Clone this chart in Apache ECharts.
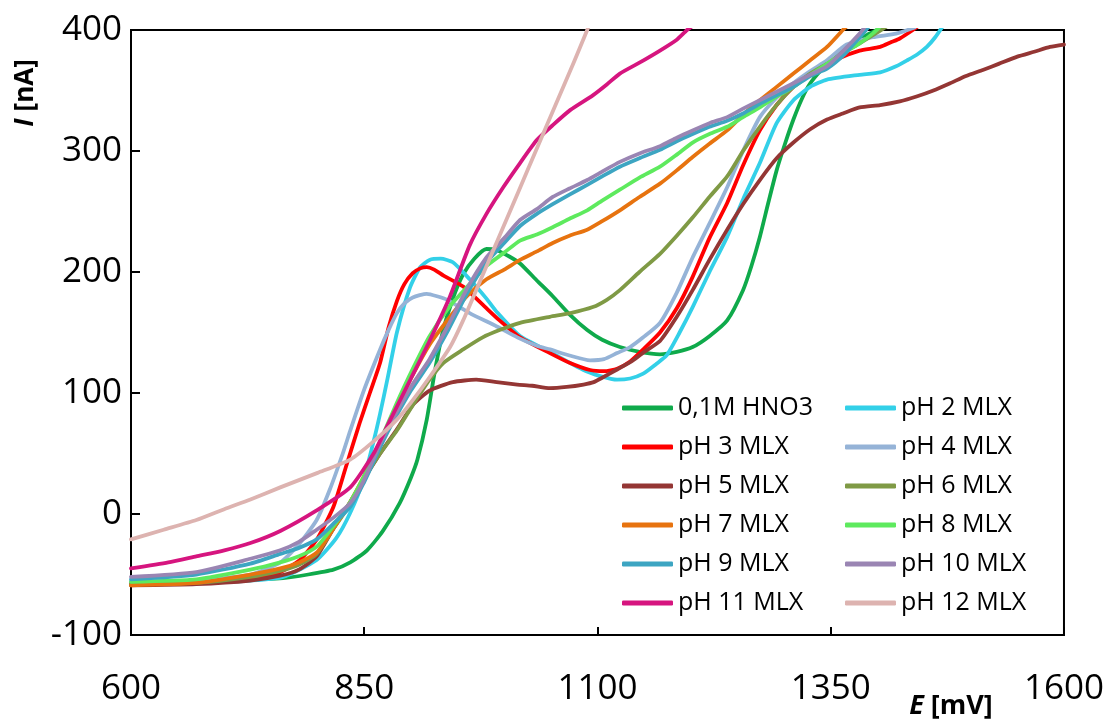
<!DOCTYPE html>
<html>
<head>
<meta charset="utf-8">
<script src="https://cdn.jsdelivr.net/npm/echarts@6/dist/echarts.min.js"></script>
<style>
html,body{margin:0;padding:0;background:#fff;}
#chart{width:1107px;height:725px;}
</style>
</head>
<body>
<div id="chart"></div>
<script>
// ---- Data: [E (mV), I (nA)] ----
const seriesNames = ['0,1M HNO3','pH 2 MLX','pH 3 MLX','pH 4 MLX','pH 5 MLX','pH 6 MLX','pH 7 MLX','pH 8 MLX','pH 9 MLX','pH 10 MLX','pH 11 MLX','pH 12 MLX'];
const seriesColors = ['#0FAA4B','#33D0E8','#FF0000','#95B3D7','#943634','#7F9A45','#E7730F','#5EEA5E','#3DA5C2','#9A85B3','#D6157F','#DDB3B0'];
const xTicks = [600, 850, 1100, 1350, 1600];
const yTicks = [-100, 0, 100, 200, 300, 400];

const hno3 = [[600,-57],[650,-56],[700,-55],[763,-53],[790,-50],[817,-46],[835,-40],[853,-30],[870,-14],[888,9],[900,30],[907,45],[917,78],[925,115],[934,150],[945,178],[956,198],[968,211],[981,219],[992,218],[1005,213],[1017,207],[1035,193],[1052,180],[1070,165],[1089,152],[1105,144],[1124,138],[1145,134],[1167,132],[1185,134],[1202,138],[1220,147],[1239,160],[1256,185],[1265,205],[1274,229],[1283,257],[1292,284],[1301,306],[1310,326],[1319,343],[1328,356],[1346,372],[1367,386],[1389,396],[1405,402]];
const ph2 = [[600,-58],[670,-57],[728,-55],[763,-52],[799,-38],[820,-20],[835,1],[849,28],[860,60],[867,83],[875,112],[885,150],[899,187],[910,204],[920,210],[932,211],[945,208],[963,194],[981,178],[992,167],[1017,147],[1049,134],[1085,119],[1103,114],[1121,111],[1135,112],[1149,116],[1163,124],[1174,131],[1188,150],[1202,171],[1220,200],[1239,229],[1256,260],[1274,290],[1292,323],[1310,342],[1328,353],[1346,359],[1381,363],[1403,365],[1420,370],[1432,375],[1443,380],[1453,386],[1462,394],[1470,403]];
const ph3 = [[600,-58],[670,-57],[728,-54],[755,-50],[781,-38],[800,-20],[817,6],[830,38],[845,75],[856,100],[867,125],[876,154],[885,176],[893,190],[902,199],[910,203],[917,204],[925,202],[935,197],[956,188],[977,173],[995,160],[1017,146],[1049,133],[1070,125],[1092,119],[1107,118],[1121,120],[1135,126],[1149,136],[1167,150],[1185,170],[1202,196],[1220,228],[1239,257],[1256,288],[1274,317],[1292,338],[1310,353],[1328,364],[1346,372],[1363,378],[1381,383],[1403,386],[1415,390],[1424,393],[1438,400],[1445,404]];
const ph4 = [[600,-56],[670,-55],[728,-50],[760,-40],[780,-25],[799,-5],[813,20],[827,50],[835,69],[850,103],[867,136],[876,152],[885,166],[893,174],[902,179],[917,182],[928,180],[939,177],[963,166],[992,155],[1014,146],[1035,139],[1049,136],[1070,131],[1092,127],[1107,128],[1121,133],[1135,138],[1149,146],[1167,158],[1185,183],[1202,212],[1220,240],[1239,270],[1256,300],[1274,328],[1292,344],[1310,356],[1328,366],[1346,375],[1367,388],[1395,394],[1420,397],[1440,402]];
const ph5 = [[600,-59],[670,-58],[728,-55],[760,-51],[780,-46],[799,-35],[817,-12],[835,10],[849,28],[867,50],[885,70],[902,90],[920,102],[945,109],[970,111],[992,109],[1014,107],[1030,106],[1049,104],[1067,105],[1085,107],[1096,109],[1106,113],[1120,119],[1138,127],[1150,134],[1167,143],[1185,163],[1202,185],[1220,210],[1239,235],[1256,256],[1274,276],[1292,294],[1310,307],[1328,318],[1346,326],[1363,331],[1381,336],[1403,338],[1424,341],[1442,345],[1460,350],[1478,356],[1495,362],[1513,367],[1530,372],[1550,378],[1568,382],[1585,386],[1600,388]];
const ph6 = [[600,-58],[670,-57],[728,-52],[760,-47],[780,-42],[799,-33],[817,-12],[835,8],[849,28],[867,50],[885,69],[902,90],[920,111],[935,125],[956,136],[977,146],[995,152],[1017,158],[1049,163],[1071,166],[1095,171],[1110,177],[1124,185],[1145,200],[1167,215],[1185,230],[1202,245],[1220,262],[1239,279],[1256,300],[1274,320],[1292,338],[1310,353],[1328,364],[1346,372],[1363,381],[1381,389],[1400,398],[1410,403]];
const ph7 = [[600,-59],[670,-57],[728,-50],[760,-45],[780,-40],[799,-32],[817,-12],[835,10],[849,30],[867,58],[885,88],[902,115],[920,140],[942,163],[960,180],[981,194],[1000,202],[1017,210],[1035,217],[1052,224],[1070,230],[1089,235],[1105,242],[1124,251],[1145,262],[1167,273],[1185,284],[1202,295],[1220,306],[1239,317],[1256,330],[1274,342],[1292,353],[1310,364],[1328,375],[1346,386],[1363,400],[1370,405]];
const ph8 = [[600,-56],[670,-54],[728,-46],[760,-40],[780,-35],[799,-27],[817,-10],[835,10],[849,30],[867,60],[885,92],[902,120],[920,147],[942,172],[963,190],[981,205],[1000,216],[1017,226],[1035,231],[1052,237],[1070,244],[1089,251],[1105,259],[1124,268],[1145,278],[1167,287],[1185,297],[1202,307],[1220,314],[1239,320],[1256,328],[1274,336],[1292,345],[1310,353],[1328,363],[1346,372],[1363,381],[1381,389],[1395,397],[1402,402]];
const ph9 = [[600,-54],[670,-50],[728,-41],[760,-33],[780,-28],[799,-21],[817,-8],[835,6],[849,25],[867,55],[878,72],[900,102],[920,125],[940,152],[960,182],[981,208],[1000,224],[1017,238],[1035,248],[1052,256],[1070,264],[1089,272],[1105,279],[1124,287],[1145,294],[1167,301],[1185,308],[1202,314],[1220,320],[1239,325],[1256,331],[1274,339],[1292,346],[1310,353],[1328,362],[1346,368],[1365,380],[1381,394],[1390,402]];
const ph10 = [[600,-52],[670,-48],[728,-37],[760,-30],[780,-23],[799,-13],[817,-3],[835,9],[849,27],[867,58],[878,75],[900,105],[920,128],[940,156],[960,186],[981,212],[1000,228],[1017,243],[1035,252],[1052,262],[1070,269],[1089,276],[1105,283],[1124,291],[1145,298],[1167,304],[1185,311],[1202,317],[1220,323],[1239,328],[1256,335],[1274,342],[1292,349],[1310,356],[1328,363],[1346,370],[1365,384],[1381,397],[1386,402]];
const ph11 = [[600,-45],[640,-40],[670,-35],[700,-30],[728,-24],[760,-14],[799,3],[835,22],[860,50],[878,78],[900,112],[920,143],[942,180],[963,222],[981,248],[999,270],[1017,290],[1035,309],[1053,322],[1071,334],[1095,346],[1110,355],[1124,364],[1145,373],[1167,383],[1185,392],[1196,400],[1205,405]];
const ph12 = [[600,-21],[635,-13],[670,-5],[700,4],[728,12],[760,22],[800,34],[835,45],[860,60],[885,78],[900,92],[920,113],[942,138],[956,160],[975,194],[995,230],[1015,266],[1035,302],[1055,338],[1075,374],[1089,400],[1095,411]];

const allData = [hno3, ph2, ph3, ph4, ph5, ph6, ph7, ph8, ph9, ph10, ph11, ph12];

const chart = echarts.init(document.getElementById('chart'), null, {renderer: 'canvas'});
const FONT = '"Open Sans", "Noto Sans", sans-serif';

const series = allData.map((d, i) => ({
  name: seriesNames[i],
  type: 'line',
  data: d,
  showSymbol: false,
  symbol: 'none',
  smooth: 0.2,
  clip: true,
  lineStyle: {color: seriesColors[i], width: 3.8, cap: 'round', join: 'round'},
  itemStyle: {color: seriesColors[i]},
  emphasis: {disabled: true},
  animation: false
}));

const leftNames = [0,2,4,6,8,10].map(i => seriesNames[i]);
const rightNames = [1,3,5,7,9,11].map(i => seriesNames[i]);
const legendCommon = {
  orient: 'vertical',
  top: 389,
  icon: 'roundRect',
  itemWidth: 51,
  itemHeight: 5,
  itemGap: 11,
  textStyle: {fontFamily: FONT, fontSize: 25, color: '#000', lineHeight: 28, padding: [0,0,0,0]},
  selectedMode: false
};

const option = {
  animation: false,
  backgroundColor: '#fff',
  grid: {left: 131, right: 43, top: 30, bottom: 90, show: true, borderColor: '#000', borderWidth: 2, containLabel: false},
  xAxis: {
    type: 'value', min: xTicks[0], max: xTicks[xTicks.length-1], interval: 250,
    axisLine: {show: true, onZero: false, lineStyle: {color: '#000', width: 2}},
    axisTick: {show: true, inside: true, length: 8, lineStyle: {color: '#000', width: 2}},
    axisLabel: {fontFamily: FONT, fontSize: 35, color: '#000', margin: 37, formatter: v => String(v)},
    splitLine: {show: false}
  },
  yAxis: {
    type: 'value', min: yTicks[0], max: yTicks[yTicks.length-1], interval: 100,
    axisLine: {show: true, onZero: false, lineStyle: {color: '#000', width: 2}},
    axisTick: {show: true, inside: true, length: 9, lineStyle: {color: '#000', width: 2}},
    axisLabel: {fontFamily: FONT, fontSize: 35, color: '#000', margin: 9, formatter: v => String(v)},
    splitLine: {show: false}
  },
  legend: [
    Object.assign({}, legendCommon, {left: 617, data: leftNames}),
    Object.assign({}, legendCommon, {left: 840, data: rightNames})
  ],
  graphic: [
    {
      type: 'text', x: 951, y: 706,
      style: {
        text: '{i|E}{s| }{b|[mV]}',
        textAlign: 'center', textVerticalAlign: 'middle',
        rich: {
          i: {fontFamily: FONT, fontSize: 27, fontWeight: 'bold', fontStyle: 'italic', fill: '#000'},
          s: {fontFamily: FONT, fontSize: 27, width: 7},
          b: {fontFamily: FONT, fontSize: 27, fontWeight: 'bold', fill: '#000'}
        }
      }
    },
    {
      type: 'text', x: 26, y: 93, rotation: Math.PI / 2,
      style: {
        text: '{i|I}{s| }{b|[nA]}',
        textAlign: 'center', textVerticalAlign: 'middle',
        rich: {
          i: {fontFamily: FONT, fontSize: 26, fontWeight: 'bold', fontStyle: 'italic', fill: '#000'},
          s: {fontFamily: FONT, fontSize: 26, width: 7},
          b: {fontFamily: FONT, fontSize: 26, fontWeight: 'bold', fill: '#000'}
        }
      }
    }
  ],
  series: series
};
chart.setOption(option);
</script>
</body>
</html>
